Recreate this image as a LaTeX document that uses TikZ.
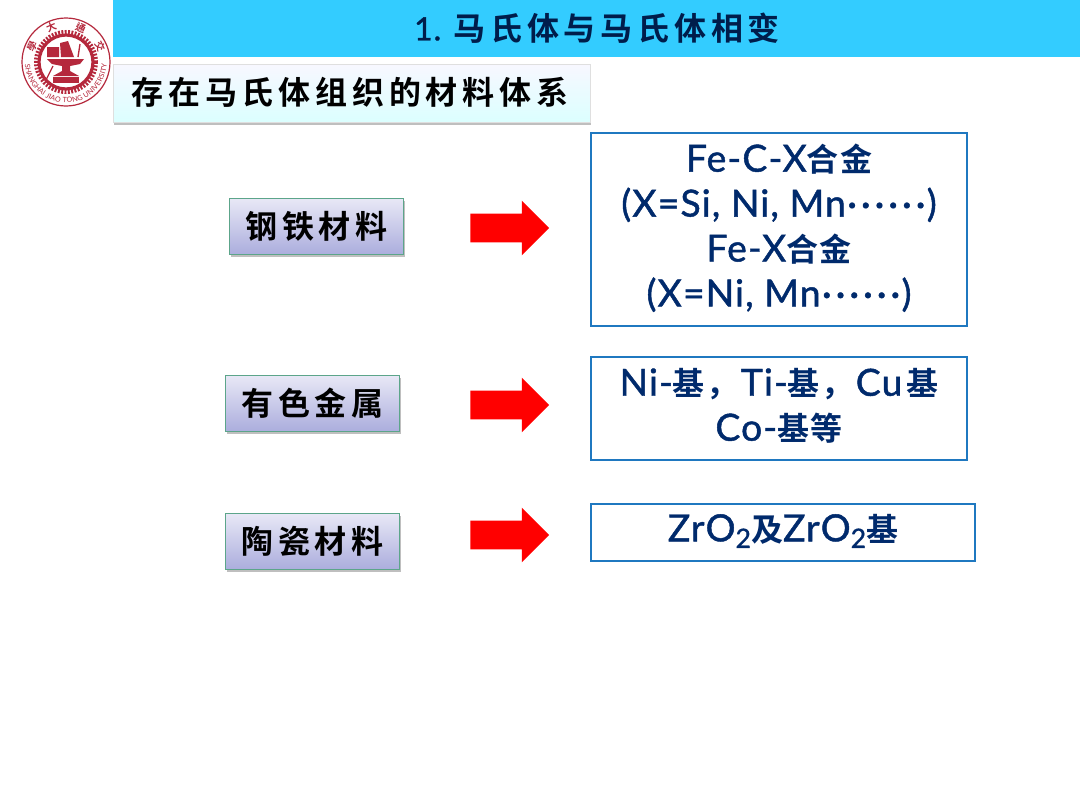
\documentclass[tikz,border=0pt]{standalone}
\usepackage{fontspec}
\usepackage{xcolor}
\usepackage{tikz}
\usetikzlibrary{shadows,shapes.arrows,decorations.text}
\setmainfont{Lato}
\newfontfamily\heavylatin[FakeBold=1.2,LetterSpace=3]{Lato}
\newfontfamily\cjkwide[LetterSpace=15]{Noto Sans CJK SC Bold}
\newfontfamily\cjkfit[LetterSpace=4]{Noto Sans CJK SC Bold}
\newfontfamily\cjkseal{Noto Sans CJK TC Bold}
\newcommand{\dotrow}{\kern1pt\textperiodcentered\kern3pt\textperiodcentered\kern3pt\textperiodcentered\kern3pt\textperiodcentered\kern3pt\textperiodcentered\kern3pt\textperiodcentered\kern1pt}
\newcommand{\subtwo}{\raisebox{-5pt}{\fontsize{20}{22}\selectfont 2}}
\newcommand{\hanzi}[1]{{\fontsize{24}{26}\selectfont\cjkfit #1}}
\definecolor{bandblue}{HTML}{33CCFF}
\definecolor{navytext}{HTML}{002A6C}
\definecolor{frameblue}{HTML}{1F78C0}
\definecolor{logored}{HTML}{B5283C}
\definecolor{kindtop}{HTML}{E8E8F6}
\definecolor{kindbot}{HTML}{ABADDD}
\definecolor{kindedge}{HTML}{5CA58A}
\tikzset{
  kindbox/.style={draw=kindedge,line width=.8pt,top color=kindtop,bottom color=kindbot,
    drop shadow={shadow xshift=.8pt,shadow yshift=-2.2pt,opacity=.5},font=\fontsize{24}{26}\selectfont\cjkwide,text=black,inner sep=0pt,
    minimum width=130.5pt,minimum height=42pt},
  resultbox/.style={draw=frameblue,line width=1.9pt,fill=white,inner sep=0pt},
  resulttext/.style={align=center,text=navytext,font=\fontsize{28}{33.7}\selectfont\heavylatin},
  redarrow/.style={single arrow,fill=red,draw=none,inner sep=0pt,minimum height=59.2pt,text width=0pt,text height=21pt,text depth=0pt,
    single arrow head extend=9.75pt,single arrow tip angle=90,anchor=tail},
}
\begin{document}
\begin{tikzpicture}[x=.75pt,y=-.75pt]
\useasboundingbox (0,0) rectangle (1080,810);
\fill[white] (0,0) rectangle (1080,810);
% title band
\node (band) [fill=bandblue,minimum width=725.25pt,minimum height=42.75pt,inner sep=0pt,anchor=north west] at (113,0) {};
\node (title) [font=\fontsize{24}{28}\selectfont\heavylatin,text=navytext!70!black] at (597,28) {1. {\cjkwide 马氏体与马氏体相变}};
% subtitle
\node (subtitle) [anchor=north west,minimum width=357.75pt,minimum height=43.5pt,inner sep=0pt,top color=blue!3,bottom color=cyan!14,
  draw=gray!25,line width=.5pt,drop shadow={shadow xshift=.6pt,shadow yshift=-2.2pt,opacity=.5}] at (113,64) {};
\node (subtext) [font=\fontsize{24}{28}\selectfont\cjkwide] at (350,92) {存在马氏体组织的材料体系};
% logo
\draw[logored,line width=.9pt] (66,62) circle (44);
\draw[logored,line width=3pt,dash pattern=on 1.4pt off 1.1pt] (66,62) circle (30);
\draw[logored,line width=2.4pt] (66,62) circle (27);
\fill[logored] (47,47) rectangle (59,57) (60,43) -- (68,41) -- (74,57) -- (61,57) -- cycle;
\fill[logored] (47,59) -- (84,59) -- (80,64) -- (70,66) -- (70,71) -- (79,76) -- (53,76) -- (62,71) -- (62,66) -- (52,64) -- cycle;
\fill[logored] (53,77) rectangle (79,83);
\draw[logored,line width=1pt] (80,44) -- (78,57) (53,66) -- (46,80);
\path[decorate,decoration={text along path,text align={fit to path},
  text={|\fontsize{5.4}{6}\selectfont\color{logored}|SHANGHAI JIAO TONG UNIVERSITY}}]
  (25,64) arc[start angle=177,end angle=3,radius=41];
\foreach \ang/\ch/\nm in {155/學/sa,113/大/sb,67/通/sc,25/交/sd}
  \node (seal\nm) [text=logored,inner sep=0pt,rotate=\ang-90,font=\fontsize{7.5}{8}\selectfont\cjkseal] at (66+37.5*cos \ang,62-37.5*sin \ang) {\ch};
% left column
\node (steel) [kindbox] at (316.5,226.5) {钢铁材料};
\node (nonfe) [kindbox] at (312.5,403.5) {有色金属};
\node (ceram) [kindbox] at (312.5,541.5) {陶瓷材料};
% arrows
\node (arrA) [redarrow] at (470,228) {};
\node (arrB) [redarrow] at (470,405) {};
\node (arrC) [redarrow] at (470,535) {};
% right column
\node (fe) [resultbox,minimum width=282pt,minimum height=144.75pt] at (779,229.5) {};
\node (fetext) [resulttext] at (779,228) {Fe-C-X\hanzi{合金}\\(X=Si, Ni, Mn\dotrow)\\Fe-X\hanzi{合金}\\(X=Ni, Mn\dotrow)};
\node (ni) [resultbox,minimum width=282pt,minimum height=77.25pt] at (779,408.5) {};
\node (nitext) [resulttext] at (779,406) {Ni-\hanzi{基，}\kern2pt Ti-\hanzi{基，}\kern2pt Cu\kern3pt\hanzi{基}\\Co-\hanzi{基等}};
\node (zr) [resultbox,minimum width=288pt,minimum height=42.75pt] at (783,532.5) {};
\node (zrtext) [resulttext] at (783,531) {ZrO\subtwo\hanzi{及}ZrO\subtwo\hanzi{基}};
\end{tikzpicture}
\end{document}
